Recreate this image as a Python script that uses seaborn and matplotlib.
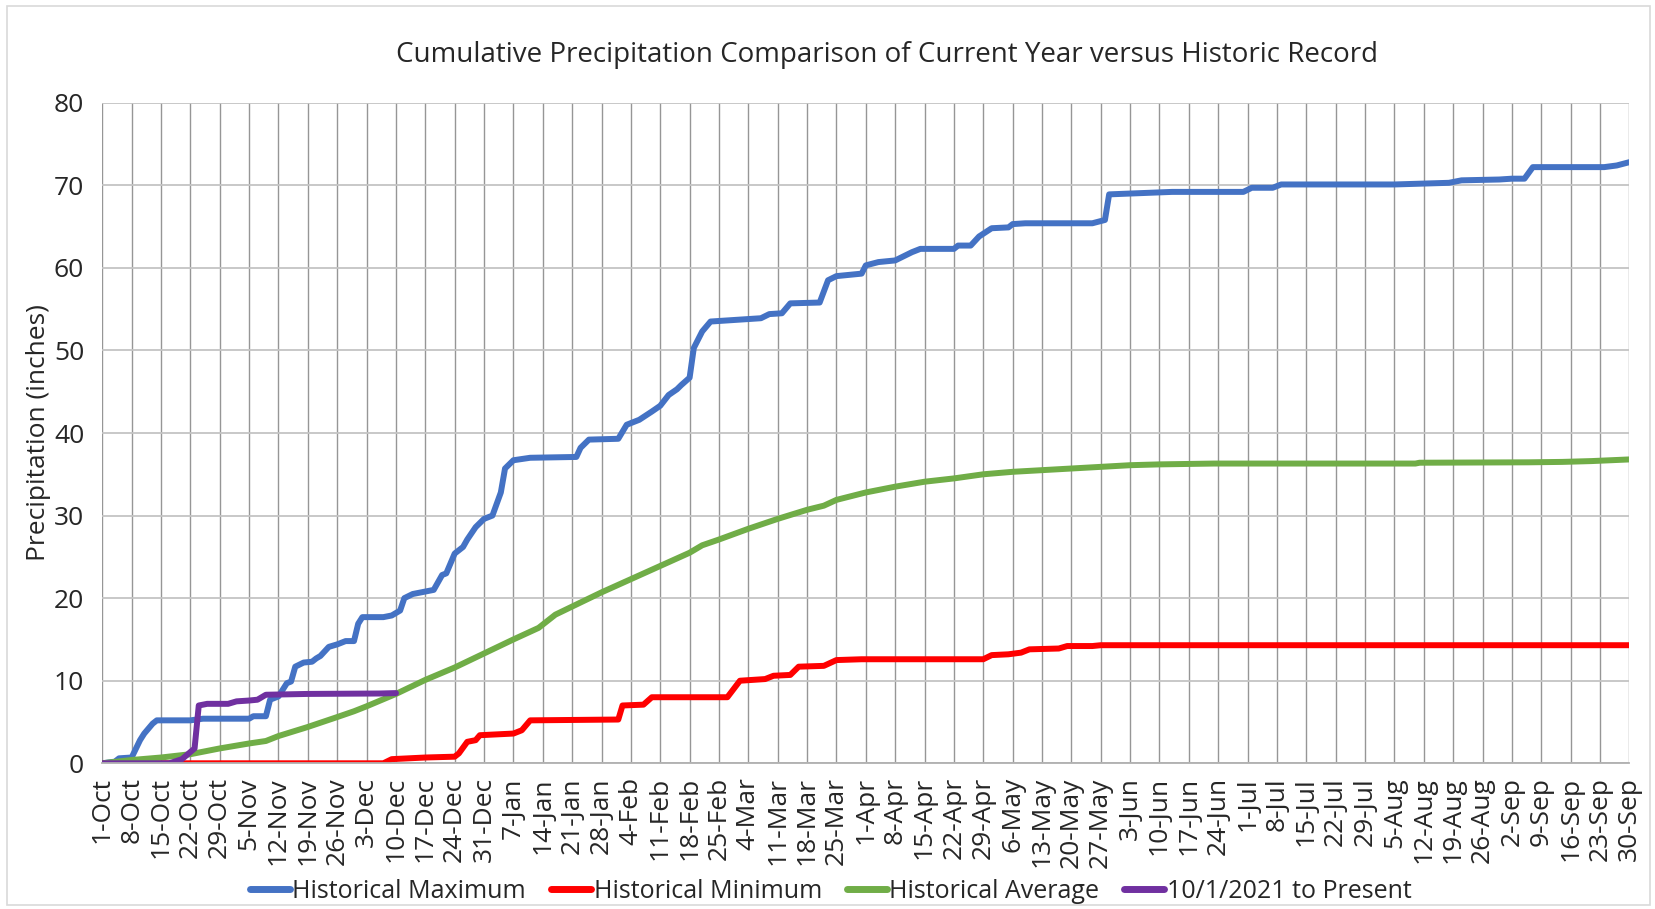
import pandas as pd
import matplotlib.pyplot as plt
import matplotlib.patches as mpatches
import seaborn as sns

# day index 0 = 1-Oct, 364 = 30-Sep
max_days = [0, 3, 4, 7, 9, 10, 12, 13, 21, 24, 35, 36, 39, 40, 41, 42, 44, 45, 46, 48, 50, 51,
            52, 54, 56, 58, 60, 61, 62, 67, 69, 71, 72, 74, 78, 79, 81, 82, 84, 86, 87, 89, 91,
            93, 95, 96, 98, 102, 113, 114, 116, 123, 125, 128, 131, 133, 135, 137, 138, 140, 141,
            143, 145, 151, 157, 159, 162, 164, 171, 173, 175, 181, 182, 185, 189, 191, 193, 195,
            203, 204, 207, 209, 212, 216, 217, 220, 236, 239, 240, 245, 255, 272, 274, 279, 281,
            308, 321, 324, 333, 336, 339, 341, 358, 361, 364]
max_vals = [0, 0.2, 0.6, 0.7, 2.8, 3.6, 4.8, 5.2, 5.2, 5.4, 5.4, 5.7, 5.7, 7.7, 7.9, 8.1, 9.7,
            9.9, 11.7, 12.2, 12.3, 12.7, 13.0, 14.1, 14.4, 14.8, 14.8, 16.9, 17.7, 17.7, 17.9,
            18.5, 20.0, 20.5, 20.9, 21.0, 22.8, 23.0, 25.4, 26.2, 27.1, 28.6, 29.6, 30.0, 32.8,
            35.7, 36.7, 37.0, 37.1, 38.2, 39.2, 39.3, 41.0, 41.6, 42.6, 43.3, 44.6, 45.3, 45.8,
            46.7, 50.3, 52.3, 53.5, 53.7, 53.9, 54.4, 54.5, 55.7, 55.8, 58.5, 59.0, 59.3, 60.3,
            60.7, 60.9, 61.4, 61.9, 62.3, 62.3, 62.7, 62.7, 63.8, 64.8, 64.9, 65.3, 65.4, 65.4,
            65.8, 68.9, 69.0, 69.2, 69.2, 69.7, 69.7, 70.1, 70.1, 70.3, 70.6, 70.7, 70.8, 70.8,
            72.2, 72.2, 72.4, 72.8]

min_days = [0, 67, 69, 77, 84, 85, 87, 89, 90, 98, 100, 102, 123, 124, 129, 131, 149, 152, 158,
            160, 164, 166, 172, 175, 181, 210, 212, 216, 219, 221, 228, 230, 236, 238, 364]
min_vals = [0, 0, 0.5, 0.7, 0.8, 1.2, 2.6, 2.8, 3.4, 3.6, 4.0, 5.2, 5.3, 7.0, 7.1, 8.0, 8.0,
            10.0, 10.2, 10.6, 10.7, 11.7, 11.8, 12.5, 12.6, 12.6, 13.1, 13.2, 13.4, 13.8, 13.9,
            14.2, 14.2, 14.3, 14.3]

avg_days = [0, 7, 14, 21, 28, 35, 39, 42, 49, 56, 60, 63, 70, 77, 84, 91, 98, 104, 108, 119, 126,
            133, 140, 143, 147, 154, 161, 168, 172, 175, 182, 189, 196, 203, 210, 217, 224, 231,
            238, 245, 252, 265, 313, 314, 340, 348, 355, 364]
avg_vals = [0, 0.4, 0.7, 1.1, 1.8, 2.4, 2.7, 3.3, 4.4, 5.6, 6.3, 6.9, 8.4, 10.1, 11.6, 13.3,
            15.0, 16.4, 18.0, 20.7, 22.3, 23.9, 25.5, 26.4, 27.1, 28.4, 29.6, 30.7, 31.2, 31.9,
            32.8, 33.5, 34.1, 34.5, 35.0, 35.3, 35.5, 35.7, 35.9, 36.1, 36.2, 36.3, 36.3, 36.4,
            36.45, 36.5, 36.6, 36.8]

cur_days = [0, 16, 19, 22, 23, 25, 30, 32, 35, 37, 39, 49, 66, 70]
cur_vals = [0, 0, 0.5, 1.8, 7.0, 7.2, 7.2, 7.5, 7.6, 7.7, 8.3, 8.4, 8.45, 8.5]

series_names = ["Historical Maximum", "Historical Minimum", "Historical Average",
                "10/1/2021 to Present"]
series_colors = ["#4472C4", "#FF0000", "#70AD47", "#7030A0"]

tick_days = list(range(0, 365, 7))
tick_labels = ["1-Oct", "8-Oct", "15-Oct", "22-Oct", "29-Oct", "5-Nov", "12-Nov", "19-Nov",
               "26-Nov", "3-Dec", "10-Dec", "17-Dec", "24-Dec", "31-Dec", "7-Jan", "14-Jan",
               "21-Jan", "28-Jan", "4-Feb", "11-Feb", "18-Feb", "25-Feb", "4-Mar", "11-Mar",
               "18-Mar", "25-Mar", "1-Apr", "8-Apr", "15-Apr", "22-Apr", "29-Apr", "6-May",
               "13-May", "20-May", "27-May", "3-Jun", "10-Jun", "17-Jun", "24-Jun", "1-Jul",
               "8-Jul", "15-Jul", "22-Jul", "29-Jul", "5-Aug", "12-Aug", "19-Aug", "26-Aug",
               "2-Sep", "9-Sep", "16-Sep", "23-Sep", "30-Sep"]

frames = []
for name, d, v in zip(series_names, [max_days, min_days, avg_days, cur_days],
                      [max_vals, min_vals, avg_vals, cur_vals]):
    frames.append(pd.DataFrame({"day": d, "precip": v, "series": name}))
df = pd.concat(frames, ignore_index=True)

sns.set_style("white")
plt.rcParams["font.family"] = ["Open Sans", "DejaVu Sans"]

fig = plt.figure(figsize=(16.55, 9.09), dpi=100)
ax = fig.add_axes([0.0618, 0.1603, 0.9227, 0.7267])

sns.lineplot(data=df, x="day", y="precip", hue="series", hue_order=series_names,
             palette=series_colors, estimator=None, sort=False, linewidth=4.3,
             solid_joinstyle="round", solid_capstyle="round", ax=ax, legend=False)

ax.set_xlim(0, 364)
ax.set_ylim(0, 80)
ax.set_xticks(tick_days)
ax.set_xticklabels(tick_labels, rotation=90, fontsize=19)
ax.set_yticks(range(0, 81, 10))
ax.tick_params(axis="y", labelsize=19, length=0, pad=13)
ax.tick_params(axis="x", length=7, width=1, color="#A6A6A6", pad=3)
ax.set_xlabel("")
ax.set_ylabel("Precipitation (inches)", fontsize=19, labelpad=2)

ax.xaxis.grid(True, color="#969696", linewidth=1.0)
ax.yaxis.grid(True, color="#C4C4C4", linewidth=1.3)
ax.set_axisbelow(True)
for s in ["top", "right", "left"]:
    ax.spines[s].set_visible(False)
ax.spines["bottom"].set_color("#B0B0B0")
ax.spines["bottom"].set_linewidth(1.3)

fig.text(0.536, 0.939, "Cumulative Precipitation Comparison of Current Year versus Historic Record",
         ha="center", va="center", fontsize=20)

handles = [plt.Line2D([], [], color=c, linewidth=5, solid_capstyle="round") for c in series_colors]
fig.legend(handles, series_names, loc="center", bbox_to_anchor=(0.502, 0.019), ncol=4,
           frameon=False, fontsize=18, handlelength=1.6, handletextpad=0.1,
           columnspacing=1.0)

fig.patches.append(mpatches.Rectangle((0.004, 0.004), 0.993, 0.989, transform=fig.transFigure,
                                      fill=False, edgecolor="#D9D9D9", linewidth=1.2))

fig.savefig("out.png", dpi=100)
